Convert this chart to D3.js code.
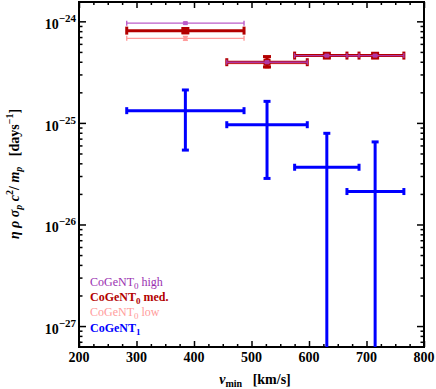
<!DOCTYPE html>
<html>
<head>
<meta charset="utf-8">
<script src="https://cdnjs.cloudflare.com/ajax/libs/d3/7.8.5/d3.min.js"></script>
<style>
  body { margin: 0; background: #fff; }
  text { font-family: "Liberation Serif", "DejaVu Serif", serif; }
</style>
</head>
<body>
<script>
// bins in v_min [km/s]
var vmin = [385, 527, 631, 715],
    vLow = [283, 457, 575, 666],
    vHigh = [487, 597, 687, 765];

// CoGeNT_0 high
var highY = [9.6e-25, 3.96e-25, 4.6e-25, 4.6e-25],
    highLo = [9.4e-25, 3.85e-25, 4.5e-25, 4.5e-25],
    highHi = [9.8e-25, 4.07e-25, 4.7e-25, 4.7e-25];
// CoGeNT_0 med.
var medY = [8.1e-25, 3.96e-25, 4.6e-25, 4.6e-25],
    medLo = [7.7e-25, 3.55e-25, 4.35e-25, 4.35e-25],
    medHi = [8.5e-25, 4.5e-25, 4.85e-25, 4.85e-25];
// CoGeNT_0 low
var lowY = [6.8e-25, 3.85e-25, 4.6e-25, 4.6e-25],
    lowLo = [6.5e-25, 3.45e-25, 4.35e-25, 4.35e-25],
    lowHi = [7.1e-25, 4.3e-25, 4.85e-25, 4.85e-25];
// CoGeNT_1 (0 = extends below the plot)
var c1Y = [1.32e-25, 9.6e-26, 3.66e-26, 2.11e-26],
    c1Lo = [5.4e-26, 2.84e-26, 0, 0],
    c1Hi = [2.11e-25, 1.63e-25, 7.9e-26, 6.5e-26];

var xTicks = [200, 300, 400, 500, 600, 700, 800],
    yTicks = [1e-24, 1e-25, 1e-26, 1e-27],
    yTickExp = ["\u221224", "\u221225", "\u221226", "\u221227"];

var w = 436, h = 389,
    pd = { left: 79, right: 424, top: 2, bottom: 347 };

var svg = d3.select("body").append("svg")
    .attr("width", w).attr("height", h);

var x = d3.scaleLinear().domain([200, 800]).range([pd.left, pd.right]);
var y = d3.scaleLog().domain([6.22e-28, 1.55e-24]).range([pd.bottom, pd.top]);

// minor / major ticks, all pointing inward
var xMinor = d3.range(200, 801, 25).filter(function(d) { return d % 100 != 0; });
var yMinor = y.ticks().filter(function(d) {
  var m = Math.round(d / Math.pow(10, Math.floor(Math.log10(d) + 1e-9)));
  return m != 1;
});

function axisG(axis, tx, ty) {
  var g = svg.append("g").attr("transform", "translate(" + tx + "," + ty + ")").call(axis);
  g.select(".domain").remove();
  g.selectAll("line").attr("stroke", "#000").attr("stroke-width", 1.5);
  g.selectAll("text").remove();
  return g;
}

axisG(d3.axisBottom(x).tickValues(xTicks).tickSize(-6), 0, pd.bottom);
axisG(d3.axisBottom(x).tickValues(xMinor).tickSize(-3), 0, pd.bottom);
axisG(d3.axisTop(x).tickValues(xTicks).tickSize(-6), 0, pd.top);
axisG(d3.axisTop(x).tickValues(xMinor).tickSize(-3), 0, pd.top);
axisG(d3.axisLeft(y).tickValues(yTicks).tickSize(-7), pd.left, 0);
axisG(d3.axisLeft(y).tickValues(yMinor).tickSize(-3.5), pd.left, 0);
axisG(d3.axisRight(y).tickValues(yTicks).tickSize(-7), pd.right, 0);
axisG(d3.axisRight(y).tickValues(yMinor).tickSize(-3.5), pd.right, 0);

// frame
svg.append("rect")
   .attr("x", pd.left).attr("y", pd.top)
   .attr("width", pd.right - pd.left).attr("height", pd.bottom - pd.top)
   .attr("fill", "none").attr("stroke", "#000").attr("stroke-width", 2);

// tick labels
svg.selectAll(".xl").data(xTicks).enter().append("text")
   .attr("x", function(d) { return x(d); })
   .attr("y", 362)
   .attr("text-anchor", "middle")
   .attr("font-size", "14px").attr("font-weight", "bold")
   .text(function(d) { return d; });

var yl = svg.selectAll(".yl").data(yTicks).enter().append("text")
   .attr("x", 76)
   .attr("y", function(d) { return y(d) + 8; })
   .attr("text-anchor", "end")
   .attr("font-size", "14px").attr("font-weight", "bold");
yl.append("tspan").text("10");
yl.append("tspan").attr("dy", -7).attr("font-size", "11px")
  .text(function(d, i) { return yTickExp[i]; });

// error bars
var series = [
  { y: lowY, lo: lowLo, hi: lowHi, color: "#ff9c9c", sw: 1.4, cap: 5, mk: 4 },
  { y: medY, lo: medLo, hi: medHi, color: "#b30000", sw: 3, cap: 8, mk: 7 },
  { y: highY, lo: highLo, hi: highHi, color: "#b040c0", sw: 1.4, cap: 5, mk: 4, op: 0.85 },
  { y: c1Y, lo: c1Lo, hi: c1Hi, color: "#0000ff", sw: 3, cap: 7, mk: 0 }
];

series.forEach(function(s) {
  var g = svg.append("g").attr("stroke", s.color).attr("stroke-width", s.sw)
             .attr("opacity", s.op || 1);
  vmin.forEach(function(v, i) {
    var cy = y(s.y[i]),
        lo = s.lo[i] > 0 ? y(s.lo[i]) : pd.bottom,
        hi = y(s.hi[i]),
        x0 = x(vLow[i]), x1 = x(vHigh[i]), cx = x(v);
    g.append("line").attr("x1", x0).attr("x2", x1).attr("y1", cy).attr("y2", cy);
    [x0, x1].forEach(function(xx) {
      g.append("line").attr("x1", xx).attr("x2", xx)
       .attr("y1", cy - s.cap / 2).attr("y2", cy + s.cap / 2);
    });
    g.append("line").attr("x1", cx).attr("x2", cx).attr("y1", lo).attr("y2", hi);
    g.append("line").attr("x1", cx - s.cap / 2).attr("x2", cx + s.cap / 2)
     .attr("y1", hi).attr("y2", hi);
    if (s.lo[i] > 0) {
      g.append("line").attr("x1", cx - s.cap / 2).attr("x2", cx + s.cap / 2)
       .attr("y1", lo).attr("y2", lo);
    }
    if (s.mk) {
      g.append("rect").attr("x", cx - s.mk / 2).attr("y", cy - s.mk / 2)
       .attr("width", s.mk).attr("height", s.mk)
       .attr("fill", s.color).attr("stroke", "none");
    }
  });
});

// legend
var legend = [
  { name: "CoGeNT", sub: "0", rest: " high", color: "#9a30b0", bold: false },
  { name: "CoGeNT", sub: "0", rest: " med.", color: "#b30000", bold: true },
  { name: "CoGeNT", sub: "0", rest: " low", color: "#ff9c9c", bold: false },
  { name: "CoGeNT", sub: "1", rest: "", color: "#0000ff", bold: true }
];
var lt = svg.selectAll(".lg").data(legend).enter().append("text")
   .attr("x", 90)
   .attr("y", function(d, i) { return 286 + i * 15.2; })
   .attr("font-size", "12px")
   .attr("font-weight", function(d) { return d.bold ? "bold" : "normal"; })
   .attr("fill", function(d) { return d.color; });
lt.append("tspan").text(function(d) { return d.name; });
lt.append("tspan").attr("dy", 3).attr("font-size", "9px").text(function(d) { return d.sub; });
lt.append("tspan").attr("dy", -3).text(function(d) { return d.rest; });

// axis titles
var xt = svg.append("text").attr("x", 255).attr("y", 384)
   .attr("text-anchor", "middle").attr("font-size", "14px").attr("font-weight", "bold");
xt.append("tspan").attr("font-style", "italic").text("v");
xt.append("tspan").attr("dy", 3).attr("font-size", "10px").text("min");
xt.append("tspan").attr("dy", -3).text("\u2002 [km/s]");

var yt = svg.append("text")
   .attr("transform", "translate(19,174) rotate(-90)")
   .attr("text-anchor", "middle").attr("font-size", "14px").attr("font-weight", "bold");
yt.append("tspan").attr("font-style", "italic").text("\u03b7 \u03c1 \u03c3");
yt.append("tspan").attr("dy", 3).attr("font-size", "10px").attr("font-style", "italic").text("p");
yt.append("tspan").attr("dy", -3).attr("font-style", "italic").text(" c");
yt.append("tspan").attr("dy", -6).attr("font-size", "10px").text("2");
yt.append("tspan").attr("dy", 6).text("/ ");
yt.append("tspan").attr("font-style", "italic").text("m");
yt.append("tspan").attr("dy", 3).attr("font-size", "10px").attr("font-style", "italic").text("p");
yt.append("tspan").attr("dy", -3).text("\u2002 [days");
yt.append("tspan").attr("dy", -6).attr("font-size", "10px").text("\u22121");
yt.append("tspan").attr("dy", 6).text("]");
</script>
</body>
</html>
